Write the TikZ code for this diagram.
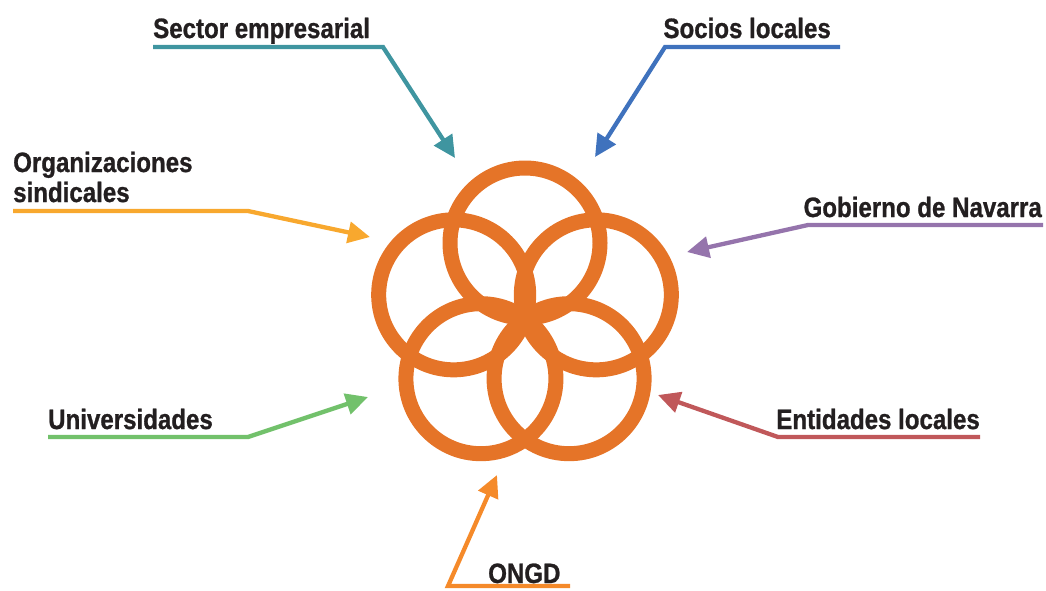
\documentclass[tikz,border=0pt]{standalone}
\usepackage{fontspec}
\newfontfamily\labfont{Liberation Sans}[FakeStretch=0.86,BoldFeatures={FakeBold=0.9}]
\usetikzlibrary{arrows.meta,calc}
\definecolor{ring}{HTML}{E57428}
\definecolor{txt}{HTML}{231F20}
\definecolor{cTeal}{HTML}{3F95A0}
\definecolor{cBlue}{HTML}{3F72BD}
\definecolor{cYel}{HTML}{F8A82E}
\definecolor{cPur}{HTML}{9574AC}
\definecolor{cGrn}{HTML}{72C16B}
\definecolor{cRed}{HTML}{C0585A}
\definecolor{cOra}{HTML}{F58A2A}
\tikzset{
  ringline/.style={draw=ring, line width=15pt},
  lab/.style={inner sep=0pt, text=txt, font=\labfont\bfseries\fontsize{28}{31}\selectfont},
  conn/.style={line width=4.3pt, line join=miter, -{Triangle[length=22pt,width=21pt]}},
}
\begin{document}
\begin{tikzpicture}[x=1pt,y=-1pt]
\useasboundingbox (0,0) rectangle (1046,590);
% flower
\coordinate (ctr) at (525,318);
\foreach \a/\n in {90/ct,162/cl,234/cbl,306/cbr,18/cr}{
  \coordinate (\n) at ($(ctr)+(\a:75pt)$);
}
\foreach \n in {ct,cl,cr,cbl,cbr}{
  \draw[ringline] (\n) circle (75pt);
}
% labels
\node[lab, anchor=base west] (sector) at (153,38) {Sector empresarial};
\node[lab, anchor=base east] (socios) at (831,38) {Socios locales};
\node[lab, anchor=base west] (org) at (13,172) {Organizaciones};
\node[lab, anchor=base west] (org2) at (13,202) {sindicales};
\node[lab, anchor=base east] (gob) at (1042,217) {Gobierno de Navarra};
\node[lab, anchor=base west] (univ) at (48,429) {Universidades};
\node[lab, anchor=base east] (ent) at (980,429) {Entidades locales};
\node[lab, anchor=base west] (ongd) at (488,583) {ONGD};
% connector coordinates
\coordinate (s0) at (153,47); \coordinate (s1) at (383,47); \coordinate (s2) at (455,158);
\coordinate (o0) at (840,47); \coordinate (o1) at (665,47); \coordinate (o2) at (595,157);
\coordinate (g0) at (13,211); \coordinate (g1) at (248,211); \coordinate (g2) at (370,237);
\coordinate (n0) at (1043,225); \coordinate (n1) at (808,225); \coordinate (n2) at (687,252);
\coordinate (u0) at (48,437); \coordinate (u1) at (248,437); \coordinate (u2) at (368,397);
\coordinate (e0) at (980,437); \coordinate (e1) at (778,437); \coordinate (e2) at (658,395);
\coordinate (d0) at (570,586); \coordinate (d1) at (448,586); \coordinate (d2) at (497,475);
\draw[conn, draw=cTeal] (s0) -- (s1) -- (s2);
\draw[conn, draw=cBlue] (o0) -- (o1) -- (o2);
\draw[conn, draw=cYel] (g0) -- (g1) -- (g2);
\draw[conn, draw=cPur] (n0) -- (n1) -- (n2);
\draw[conn, draw=cGrn] (u0) -- (u1) -- (u2);
\draw[conn, draw=cRed] (e0) -- (e1) -- (e2);
\draw[conn, draw=cOra] (d0) -- (d1) -- (d2);
\end{tikzpicture}
\end{document}
